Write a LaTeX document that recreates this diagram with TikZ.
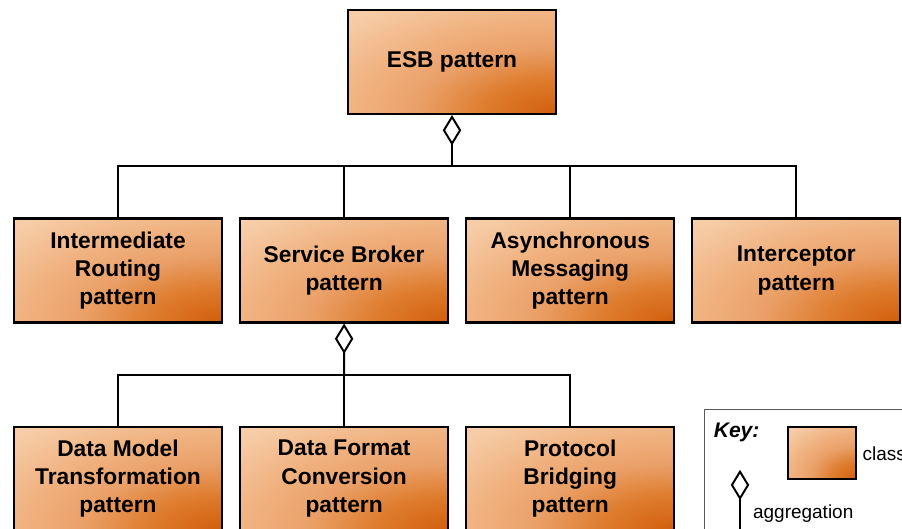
\documentclass[tikz,border=0pt]{standalone}
\usepackage{fontspec}
\setmainfont{Liberation Sans}
\usepackage{xcolor}
\usepackage{tikz}
\usetikzlibrary{positioning,calc,arrows.meta}

\definecolor{peach}{RGB}{250,220,192}
\definecolor{sand}{RGB}{246,204,166}
\definecolor{honey}{RGB}{240,178,128}
\definecolor{apricot}{RGB}{234,160,104}
\definecolor{ember}{RGB}{222,124,46}
\definecolor{burnt}{RGB}{210,94,10}
\definecolor{keyline}{RGB}{90,90,90}

\pgfdeclareradialshading{cornerglow}{\pgfpoint{0bp}{0bp}}{color(0bp)=(burnt); color(6bp)=(ember); color(11.5bp)=(apricot); color(16.5bp)=(honey); color(23bp)=(sand); color(35bp)=(peach); color(50bp)=(peach)}

\begin{document}
\begin{tikzpicture}[
    glow/.style={path picture={
        \shade[shading=cornerglow] let \p1=($(path picture bounding box.north east)-(path picture bounding box.south west)$) in
            (path picture bounding box.south east) ellipse [x radius=1.45*\x1, y radius=1.4*\y1];}},
    patternbox/.style={rectangle, draw, line width=1.5pt, glow, minimum width=5.2cm, minimum height=2.6cm, align=center, font=\fontsize{16.2}{20}\selectfont\bfseries},
    keybox/.style={rectangle, draw=keyline, line width=0.7pt, minimum width=6cm, minimum height=4cm},
    conn/.style={line width=1.4pt},
    agg/.style={conn, -{Diamond[open, length=0.76cm, width=0.46cm, line width=1.4pt]}}
]
\clip (0,0) rectangle (22.55,13.225);

% top class
\node[patternbox] (esb) at (11.3,11.675) {ESB pattern};

% second row
\node[patternbox] (routing) at (2.95,6.4625) {Intermediate\\Routing\\pattern};
\node[patternbox, right=0.4cm of routing] (broker) {Service Broker\\pattern};
\node[patternbox, right=0.4cm of broker] (async) {Asynchronous\\Messaging\\pattern};
\node[patternbox, right=0.4cm of async] (interceptor) {Interceptor\\pattern};

% third row
\node[patternbox, below=2.55cm of routing] (data-model) {Data Model\\Transformation\\pattern};
\node[patternbox, below=2.55cm of broker] (data-format) {Data Format\\Conversion\\pattern};
\node[patternbox, below=2.55cm of async] (protocol) {Protocol\\Bridging\\pattern};

\coordinate (bus-top) at ($(esb.south)!0.5!(esb.south |- routing.north)$);
\coordinate (bus-low) at ($(broker.south)!0.5!(data-format.north)$);

\draw[conn] (routing.north) |- (interceptor.north |- bus-top) -- (interceptor.north);
\draw[conn] (broker.north) -- (broker.north |- bus-top);
\draw[conn] (async.north) -- (async.north |- bus-top);
\draw[agg] (esb.south |- bus-top) -- (esb.south);

\draw[conn] (data-model.north) |- (protocol.north |- bus-low) -- (protocol.north);
\draw[conn] (data-format.north) -- (data-format.north |- bus-low);
\draw[agg] (bus-low) -- (broker.south);

% key
\node[keybox, anchor=north west] (key) at (17.6,3.0) {};
\node[anchor=west, font=\fontsize{15}{18}\selectfont\bfseries\itshape] (key-title) at (17.72,2.42) {Key:};
\node[rectangle, draw, line width=1.5pt, glow, minimum width=1.72cm, minimum height=1.3cm] (key-class) at (20.55,1.89) {};
\node[right=0.12cm of key-class, inner sep=0pt, font=\fontsize{13.5}{16}\selectfont] (key-class-text) {class};
\coordinate (key-agg-top) at (18.5,1.48);
\coordinate (key-agg-end) at (18.5,-0.3);
\draw[agg] (key-agg-end) -- (key-agg-top);
\node[anchor=west, inner sep=0pt, font=\fontsize{13.5}{16}\selectfont] (key-agg-text) at (18.82,0.38) {aggregation};

\end{tikzpicture}
\end{document}
